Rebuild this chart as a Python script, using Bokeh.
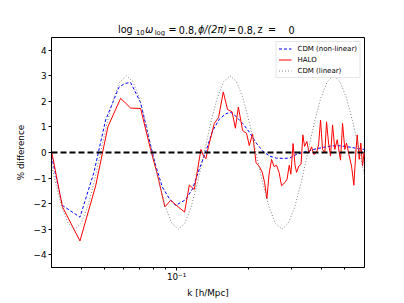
from bokeh.plotting import figure
from bokeh.layouts import column
from bokeh.models import Range1d, FixedTicker, Span, Legend, LegendItem
from bokeh.core.properties import value
from bokeh.embed import file_html
from bokeh.resources import INLINE

FONT = "DejaVu Sans"

# ---------------- data ----------------
k_halo = [0.03013, 0.03341, 0.03955, 0.04597, 0.05173, 0.05843, 0.06431, 0.07079, 0.07791, 0.08309,
          0.08938, 0.09441, 0.1022, 0.1080, 0.1130, 0.1185, 0.1263, 0.1296, 0.1325, 0.1359,
          0.1436, 0.1496, 0.1565, 0.1631, 0.1703, 0.1758, 0.1809, 0.1884, 0.1957, 0.2009,
          0.2073, 0.2144, 0.2207, 0.2276, 0.2326, 0.2378, 0.2429, 0.2488, 0.2548, 0.2610,
          0.2674, 0.2738, 0.2832, 0.2887, 0.2948, 0.2994, 0.3058, 0.3117, 0.3162, 0.3233,
          0.3302, 0.3359, 0.3415, 0.3491, 0.3565, 0.3652, 0.3733, 0.3831, 0.3905, 0.3981,
          0.4058, 0.4149, 0.4217, 0.4299, 0.4382, 0.4467, 0.4566, 0.4673, 0.4763, 0.4823,
          0.4917, 0.5026, 0.5109, 0.5243, 0.5360, 0.5480, 0.5586, 0.5661, 0.5771, 0.5860,
          0.5957, 0.6043, 0.6072]
halo = [0.05, -2.12, -3.46, -1.31, 1.01, 2.12, 1.74, 1.72, 0.12, -0.85,
        -2.13, -1.87, -2.15, -2.33, -1.27, -1.45, 0.12, -0.14, -0.24, 0.24,
        1.14, 1.37, 2.37, 1.68, 1.59, 0.95, 1.78, 0.86, 0.75, 0.27,
        0.73, -0.40, -0.53, -0.78, -1.17, -1.81, -0.85, -0.27, -0.55, -0.50,
        -0.78, -1.30, -1.17, -1.04, -0.50, -0.85, 0.35, -0.50, -0.78, -0.53,
        -0.46, 0.69, 0.24, 0.43, -0.01, 0.22, -0.08, 0.00, 0.30, 1.27,
        0.12, 0.00, 1.20, 0.37, -0.14, 1.08, 0.12, 0.50, 0.00, -0.30,
        1.14, 0.12, 0.37, -0.14, -0.53, -1.28, 0.00, 0.69, -0.27, 0.37,
        -0.53, 0.00, -0.20]

k_nl = [0.03013, 0.03341, 0.03955, 0.04522, 0.05060, 0.05748, 0.06070, 0.06431, 0.07079, 0.07665,
        0.08175, 0.08718, 0.09289, 0.09904, 0.1039, 0.1090, 0.1166, 0.1243, 0.1325, 0.1413,
        0.1506, 0.1605, 0.1684, 0.1766, 0.1884, 0.2009, 0.2148, 0.2289, 0.2441, 0.2603,
        0.2773, 0.2957, 0.3153, 0.3359, 0.3582, 0.3831, 0.4097, 0.4382, 0.4686, 0.5012,
        0.5360, 0.5733, 0.6072]
cdm_nl = [-0.15, -2.07, -2.53, -0.78, 1.27, 2.55, 2.70, 2.74, 1.95, 0.55,
          -0.50, -1.35, -1.78, -2.07, -1.96, -1.85, -1.42, -0.65, 0.05, 0.85,
          1.30, 1.52, 1.57, 1.42, 1.14, 0.80, 0.37, 0.05, -0.14, -0.22,
          -0.23, -0.22, -0.08, 0.00, 0.07, 0.15, 0.20, 0.25, 0.27, 0.24,
          0.20, 0.15, 0.12]

k_lin = [0.02934, 0.03122, 0.03322, 0.03535, 0.03762, 0.04003, 0.04260, 0.04533, 0.04823, 0.05132,
         0.05461, 0.05811, 0.06184, 0.06580, 0.07002, 0.07451, 0.07928, 0.08436, 0.08977, 0.09552,
         0.1016, 0.1082, 0.1151, 0.1225, 0.1303, 0.1387, 0.1476, 0.1570, 0.1671, 0.1778,
         0.1892, 0.2013, 0.2142, 0.2279, 0.2425, 0.2581, 0.2746, 0.2922, 0.3110, 0.3309,
         0.3521, 0.3747, 0.3987, 0.4242, 0.4514, 0.4803, 0.5111, 0.5439, 0.5787, 0.6158]
cdm_lin = [0.00, -1.15, -2.12, -2.77, -3.00, -2.77, -2.12, -1.15, 0.00, 1.15,
           2.12, 2.77, 3.00, 2.77, 2.12, 1.15, 0.00, -1.15, -2.12, -2.77,
           -3.00, -2.77, -2.12, -1.15, 0.00, 1.15, 2.12, 2.77, 3.00, 2.77,
           2.12, 1.15, 0.00, -1.15, -2.12, -2.77, -3.00, -2.77, -2.12, -1.15,
           0.00, 1.15, 2.12, 2.77, 3.00, 2.77, 2.12, 1.15, 0.00, -1.15]

zero_level = 0.0
x_limits = (0.0301, 0.607)
y_limits = (-4.5, 4.5)
y_ticks = [-4, -3, -2, -1, 0, 1, 2, 3, 4]
x_major = [0.1]
x_major_labels = {0.1: "10\u207b\u00b9"}
x_minor = [0.04, 0.05, 0.06, 0.07, 0.08, 0.09, 0.2, 0.3, 0.4, 0.5]

# title pieces
title_main = ["log", "\u03c9", "=", "0.8,", "\u03d5/(2\u03c0)", "=", "0.8,", "z", "=", "0"]
title_main_italic = [False, True, False, False, True, False, False, False, False, False]
title_sub = ["10", "log"]

# ---------------- layout constants (pixels) ----------------
W = 400
TH = 36
FRAME_L, FRAME_R = 51, 364

# ---------------- title strip ----------------
# its frame is aligned with the main plot frame by the column layout,
# so the x range is expressed in page pixels of that frame
pt = figure(width=W, height=TH, x_range=Range1d(FRAME_L, FRAME_R), y_range=Range1d(0, TH),
            x_axis_location=None, y_axis_location=None,
            output_backend="svg", toolbar_location=None,
            min_border_left=0, min_border_right=0, min_border_top=0, min_border_bottom=0)
pt.xgrid.visible = False
pt.ygrid.visible = False
pt.outline_line_color = None
pt.background_fill_color = "white"
pt.border_fill_color = "white"

main_x = [117.5, 144.8, 168.0, 178.3, 197.5, 227.5, 237.0, 257.0, 267.5, 288.0]
main_y = TH - 29.3
sub_x = [135.5, 154.2]
sub_y = TH - 32.4
for txt, xx, it in zip(title_main, main_x, title_main_italic):
    pt.text(x=[xx], y=[main_y], text=[txt], text_font=value(FONT), text_font_size=value("9.6px"),
            text_font_style="italic" if it else "normal",
            text_align="left", text_baseline="alphabetic", text_color="black")
pt.text(x=sub_x, y=[sub_y, sub_y], text=title_sub, text_font=value(FONT), text_font_size=value("6.8px"),
        text_align="left", text_baseline="alphabetic", text_color="black")

# ---------------- main figure ----------------
p = figure(width=W, height=264, x_axis_type="log",
           x_range=Range1d(*x_limits), y_range=Range1d(*y_limits),
           output_backend="svg", toolbar_location=None,
           min_border_left=FRAME_L, min_border_right=W - FRAME_R, min_border_top=1, min_border_bottom=31)
p.background_fill_color = "white"
p.border_fill_color = "white"
p.outline_line_color = "black"
p.outline_line_width = 1
p.xgrid.visible = False
p.ygrid.visible = False

r_nl = p.line(k_nl, cdm_nl, line_color="blue", line_width=1, line_dash="3 2")
r_halo = p.line(k_halo, halo, line_color="red", line_width=1)
r_lin = p.line(k_lin, cdm_lin, line_color="grey", line_width=1, line_dash="1 2")

p.add_layout(Span(location=zero_level, dimension="width", line_color="black",
                  line_width=2, line_dash="6 3"))

for ax in (p.xaxis[0], p.yaxis[0]):
    ax.axis_line_color = "black"
    ax.axis_line_width = 1
    ax.major_tick_line_color = "black"
    ax.minor_tick_line_color = "black"
    ax.major_tick_out = 3
    ax.major_tick_in = 0
    ax.minor_tick_out = 2
    ax.minor_tick_in = 0
    ax.major_label_text_font = FONT
    ax.major_label_text_font_size = "8.8px"
    ax.major_label_text_color = "black"
    ax.axis_label_text_font = FONT
    ax.axis_label_text_font_size = "8.8px"
    ax.axis_label_text_font_style = "normal"
    ax.axis_label_text_color = "black"

p.xaxis.ticker = FixedTicker(ticks=x_major, minor_ticks=x_minor)
p.xaxis.major_label_overrides = x_major_labels
p.xaxis.axis_label = "k [h/Mpc]"
p.xaxis.major_label_standoff = 1
p.xaxis.axis_label_standoff = 3

p.yaxis.ticker = FixedTicker(ticks=y_ticks)
p.yaxis.major_label_overrides = {t: (("\u2212" + str(abs(t))) if t < 0 else str(t)) for t in y_ticks}
p.yaxis.axis_label = "% difference"
p.yaxis.major_label_standoff = 2
p.yaxis.axis_label_standoff = 5
p.yaxis.minor_tick_line_color = None

legend = Legend(items=[LegendItem(label="CDM (non-linear)", renderers=[r_nl]),
                       LegendItem(label="HALO", renderers=[r_halo]),
                       LegendItem(label="CDM (linear)", renderers=[r_lin])],
                location="top_right", margin=4, padding=2, spacing=2,
                glyph_width=13, glyph_height=9, label_height=9, label_standoff=6,
                label_text_font=FONT, label_text_font_size="7px", label_text_color="black",
                border_line_color="#cccccc", border_line_width=1,
                background_fill_color="white", background_fill_alpha=0.8)
p.add_layout(legend)

layout = column(pt, p, spacing=0)
open("out.html", "w").write(file_html(layout, INLINE))
